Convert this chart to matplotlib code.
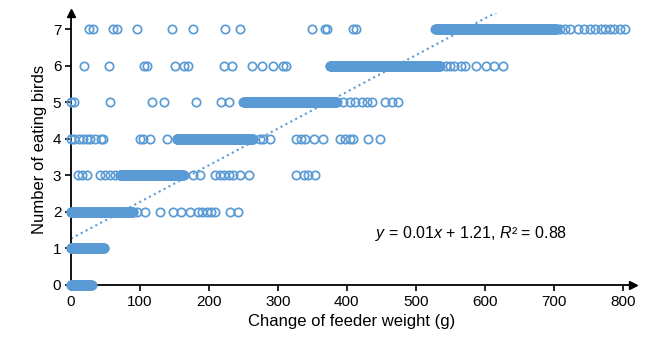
import numpy as np
import matplotlib.pyplot as plt

plt.rcParams['font.family'] = ['Liberation Sans', 'DejaVu Sans']
plt.rcParams['mathtext.fontset'] = 'custom'
plt.rcParams['mathtext.rm'] = 'Liberation Sans'
plt.rcParams['mathtext.it'] = 'Liberation Sans:italic'

# nombre d'oiseaux -> poids isolés (g)
singles = {
    7: [26, 32, 61, 67, 95, 147, 177, 224, 245, 349, 368, 371, 409, 414,
        709, 716, 724, 735, 744, 752, 760, 768, 775, 782, 788, 796, 803],
    6: [19, 55, 106, 110, 151, 164, 169, 222, 234, 263, 277, 293, 307, 312,
        544, 550, 556, 566, 571, 588, 602, 614, 626],
    5: [0, 4, 57, 118, 135, 181, 217, 229, 394, 404, 412, 422, 429, 436,
        455, 465, 474],
    4: [0, 4, 11, 18, 23, 27, 35, 44, 47, 100, 104, 114, 139, 274, 279, 288,
        327, 333, 339, 352, 366, 390, 398, 404, 409, 431, 448],
    3: [10, 16, 23, 42, 49, 57, 64, 177, 187, 209, 216, 222, 229, 235, 245,
        258, 327, 338, 344, 354],
    2: [95, 107, 129, 148, 160, 173, 184, 190, 197, 203, 209, 230, 242],
}
# plages très denses (début, fin) en g
dense = {
    7: (528, 704),
    6: (375, 535),
    5: (250, 385),
    4: (153, 264),
    3: (71, 163),
    2: (0, 90),
    1: (0, 48),
    0: (0, 30),
}
# droite de tendance telle que tracée
trend_x = [0, 618]
trend_y = [1.27, 7.48]
equation = r"$y$ = 0.01$x$ + 1.21, $R$² = 0.88"

blue = '#5b9bd5'

fig = plt.figure(figsize=(6.52, 3.45), dpi=100)
ax = fig.add_axes([71 / 652, 60 / 345, 562 / 652, 272 / 345])

xs, ys = [], []
for lvl, vals in singles.items():
    xs += vals
    ys += [lvl] * len(vals)
for lvl, (a, b) in dense.items():
    run = np.arange(a, b + 0.5, 0.7)
    xs += list(run)
    ys += [lvl] * len(run)

ax.plot(xs, ys, 'o', mfc='none', mec=blue, ms=6, mew=1.25,
        clip_on=False, zorder=3)
ax.plot(trend_x, trend_y, ':', color=blue, lw=1.5, zorder=2)

ax.text(580, 1.42, equation, fontsize=11.5, ha='center', va='center')

ax.set_xlim(0, 815)
ax.set_ylim(0, 7.45)
ax.set_xticks(range(0, 801, 100))
ax.set_yticks(range(0, 8))
ax.tick_params(direction='out', length=4, width=1.2, labelsize=11, pad=3)
for s in ['top', 'right']:
    ax.spines[s].set_visible(False)
for s in ['left', 'bottom']:
    ax.spines[s].set_linewidth(1.3)
ax.plot(1, 0, '>', color='black', ms=6, transform=ax.transAxes, clip_on=False)
ax.plot(0, 1, '^', color='black', ms=6, transform=ax.transAxes, clip_on=False)

ax.set_xlabel('Change of feeder weight (g)', fontsize=12)
ax.set_ylabel('Number of eating birds', fontsize=12)

fig.savefig('out.png', dpi=100)
